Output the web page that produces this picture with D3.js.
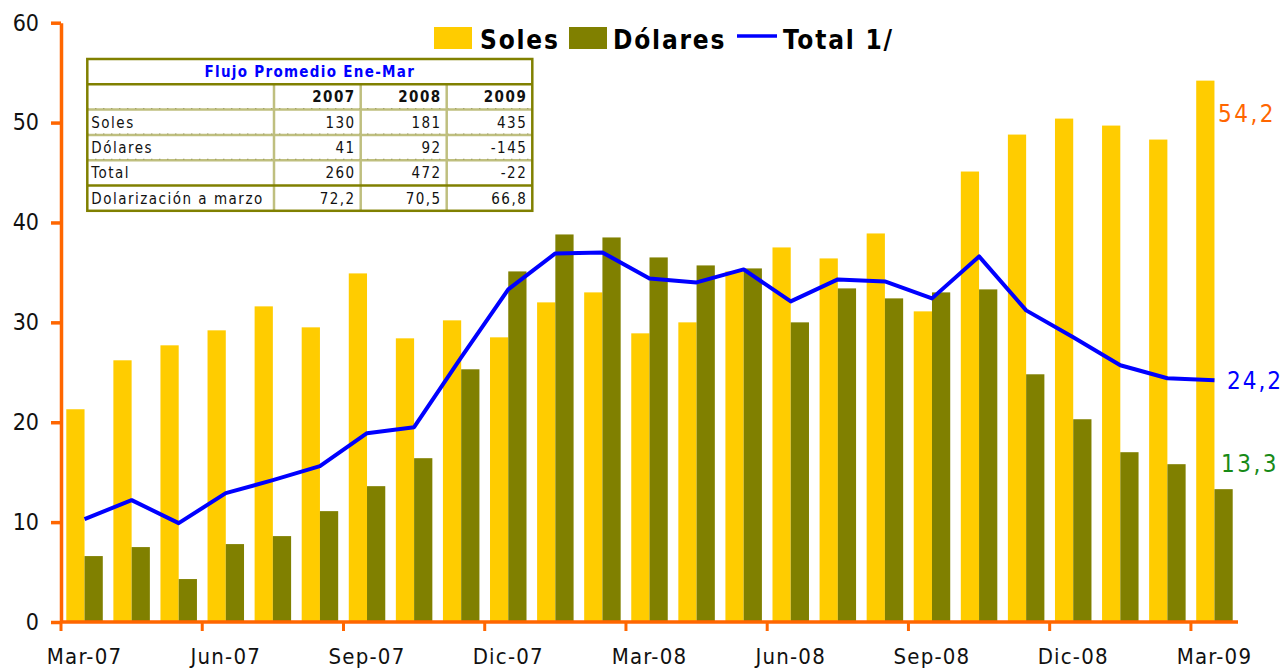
<!DOCTYPE html>
<html>
<head>
<meta charset="utf-8">
<script src="https://cdn.jsdelivr.net/npm/d3@7"></script>
<style>
  body { margin: 0; background: #fff; }
  svg { display: block; font-family: "DejaVu Sans Condensed", "DejaVu Sans", sans-serif; }
</style>
</head>
<body>
<div id="viz"></div>
<script>
// monthly flows (Mar-07 .. Mar-09)
const months = ['Mar-07','Abr-07','May-07','Jun-07','Jul-07','Ago-07','Sep-07','Oct-07','Nov-07','Dic-07','Ene-08','Feb-08',
  'Mar-08','Abr-08','May-08','Jun-08','Jul-08','Ago-08','Sep-08','Oct-08','Nov-08','Dic-08','Ene-09','Feb-09','Mar-09'];
const soles = [21.3,26.2,27.7,29.2,31.6,29.5,34.9,28.4,30.2,28.5,32.0,33.0,28.9,30.0,35.1,37.5,36.4,38.9,31.1,45.1,48.8,50.4,49.7,48.3,54.2];
const dolares = [6.6,7.5,4.3,7.8,8.6,11.1,13.6,16.4,25.3,35.1,38.8,38.5,36.5,35.7,35.4,30.0,33.4,32.4,33.0,33.3,24.8,20.3,17.0,15.8,13.3];
const total = [10.3,12.2,9.9,12.9,14.2,15.6,18.9,19.5,26.5,33.3,36.9,37.0,34.4,34.0,35.3,32.1,34.3,34.1,32.4,36.6,31.2,28.5,25.7,24.4,24.2];
const yTicks = [0,10,20,30,40,50,60];
const xTickLabels = ['Mar-07','Jun-07','Sep-07','Dic-07','Mar-08','Jun-08','Sep-08','Dic-08','Mar-09'];

// inset table
const tableTitle = 'Flujo Promedio Ene-Mar';
const tableYears = ['2007','2008','2009'];
const tableRows = ['Soles','Dólares','Total','Dolarización a marzo'];
const tableValues = [
  ['130','181','435'],
  ['41','92','-145'],
  ['260','472','-22'],
  ['72,2','70,5','66,8']
];

const W = 1284, H = 668;
const orange = '#FF6600', yellow = '#FFCC00', olive = '#808000', blue = '#0000FF';

const svg = d3.select('#viz').append('svg').attr('width', W).attr('height', H);

const x = d3.scaleBand().domain(months).range([61, 1238]);
const xSub = d3.scaleBand().domain(['soles','dolares']).range([0, x.bandwidth()]).paddingOuter(0.29);
const y = d3.scaleLinear().domain([0, 60]).range([622, 22.7]);

const rows = months.map((m, i) => ({ m, soles: soles[i], dolares: dolares[i], total: total[i] }));

// bars
const groups = svg.append('g').selectAll('g').data(rows).enter().append('g')
  .attr('transform', (d) => `translate(${x(d.m)},0)`);
groups.append('rect')
  .attr('x', xSub('soles')).attr('width', xSub.bandwidth())
  .attr('y', (d) => y(d.soles)).attr('height', (d) => y(0) - y(d.soles))
  .attr('fill', yellow);
groups.append('rect')
  .attr('x', xSub('dolares')).attr('width', xSub.bandwidth())
  .attr('y', (d) => y(d.dolares)).attr('height', (d) => y(0) - y(d.dolares))
  .attr('fill', olive);

// total line
const line = d3.line().x((d) => x(d.m) + x.bandwidth() / 2).y((d) => y(d.total));
svg.append('path').datum(rows)
  .attr('d', line).attr('fill', 'none').attr('stroke', blue)
  .attr('stroke-width', 4).attr('stroke-linejoin', 'round');

// y axis
const yAxis = svg.append('g').attr('transform', 'translate(61,0)')
  .call(d3.axisLeft(y).tickValues(yTicks).tickSize(10).tickPadding(12).tickSizeOuter(0));
yAxis.select('.domain').attr('stroke', orange).attr('stroke-width', 3.5);
yAxis.selectAll('.tick line').attr('stroke', orange).attr('stroke-width', 3.5);
yAxis.selectAll('.tick text').attr('font-size', 23).attr('fill', '#111')
  .style('font-family', '"DejaVu Sans Condensed", "DejaVu Sans", sans-serif');

// x axis
const xg = svg.append('g');
xg.append('line').attr('x1', x.range()[0]).attr('x2', x.range()[1])
  .attr('y1', y(0)).attr('y2', y(0)).attr('stroke', orange).attr('stroke-width', 3.5);
xg.selectAll('line.tk').data(xTickLabels).enter().append('line')
  .attr('class', 'tk')
  .attr('x1', (d) => x(d)).attr('x2', (d) => x(d))
  .attr('y1', y(0)).attr('y2', y(0) + 9)
  .attr('stroke', orange).attr('stroke-width', 3);
xg.selectAll('text').data(xTickLabels).enter().append('text')
  .attr('x', (d) => x(d) + x.bandwidth() / 2).attr('y', 664)
  .attr('text-anchor', 'middle').attr('font-size', 22).attr('letter-spacing', 1.2)
  .attr('fill', '#111').text((d) => d);

// end labels
const last = rows[rows.length - 1];
const xEnd = x(last.m) + x.bandwidth();
svg.append('text').attr('x', xEnd - 20).attr('y', y(last.soles) + 41)
  .attr('font-size', 24).attr('letter-spacing', 2.5).attr('fill', orange)
  .text(d3.format('.1f')(last.soles).replace('.', ','));
svg.append('text').attr('x', xEnd - 11).attr('y', y(last.total) + 9)
  .attr('font-size', 24).attr('letter-spacing', 2).attr('fill', blue)
  .text(d3.format('.1f')(last.total).replace('.', ','));
svg.append('text').attr('x', xEnd - 17).attr('y', y(last.dolares) - 17)
  .attr('font-size', 24).attr('letter-spacing', 2.5).attr('fill', '#178A17')
  .text(d3.format('.1f')(last.dolares).replace('.', ','));

// legend
const legend = svg.append('g').attr('transform', 'translate(434,0)');
legend.append('rect').attr('x', 0).attr('y', 27).attr('width', 38).attr('height', 22).attr('fill', yellow);
legend.append('text').attr('x', 46).attr('y', 48.5).text('Soles');
legend.append('rect').attr('x', 135).attr('y', 27).attr('width', 38).attr('height', 22).attr('fill', olive);
legend.append('text').attr('x', 179).attr('y', 48.5).text('Dólares');
legend.append('line').attr('x1', 303).attr('x2', 343).attr('y1', 36).attr('y2', 36)
  .attr('stroke', blue).attr('stroke-width', 3.5);
legend.append('text').attr('x', 349).attr('y', 48.5).text('Total 1/');
legend.selectAll('text').attr('font-size', 26).attr('font-weight', 'bold')
  .attr('letter-spacing', 1.8).attr('fill', '#000');

// table
const tb = svg.append('g');
const colEdges = [87.3, 274, 360.7, 446.7, 532.3];
const rowY = d3.scaleBand().domain(d3.range(6)).range([59, 210.8]);
const light = '#BFBF7F';
tb.append('rect').attr('x', colEdges[0]).attr('y', rowY.range()[0])
  .attr('width', colEdges[4] - colEdges[0]).attr('height', rowY.range()[1] - rowY.range()[0])
  .attr('fill', '#fff');
// inner light lines
[2, 3, 4].forEach((r) => {
  tb.append('line').attr('x1', colEdges[0]).attr('x2', colEdges[4])
    .attr('y1', rowY(r)).attr('y2', rowY(r)).attr('stroke', light).attr('stroke-width', 2.5);
  tb.append('line').attr('x1', colEdges[0]).attr('x2', colEdges[4])
    .attr('y1', rowY(r) - 1).attr('y2', rowY(r) - 1).attr('stroke', '#8a8a50')
    .attr('stroke-width', 1).attr('stroke-dasharray', '1,7');
});
colEdges.slice(1, 4).forEach((cx) => {
  tb.append('line').attr('x1', cx).attr('x2', cx)
    .attr('y1', rowY(1)).attr('y2', rowY.range()[1]).attr('stroke', light).attr('stroke-width', 2.5);
});
// dark lines
[1, 5].forEach((r) => {
  tb.append('line').attr('x1', colEdges[0]).attr('x2', colEdges[4])
    .attr('y1', rowY(r)).attr('y2', rowY(r)).attr('stroke', olive).attr('stroke-width', 2.5);
});
tb.append('rect').attr('x', colEdges[0]).attr('y', rowY.range()[0])
  .attr('width', colEdges[4] - colEdges[0]).attr('height', rowY.range()[1] - rowY.range()[0])
  .attr('fill', 'none').attr('stroke', olive).attr('stroke-width', 2.5);

tb.append('text').attr('x', (colEdges[0] + colEdges[4]) / 2).attr('y', rowY(0) + 18)
  .attr('text-anchor', 'middle').attr('font-size', 15).attr('font-weight', 'bold')
  .attr('letter-spacing', 1.3).attr('fill', blue).text(tableTitle);
tableYears.forEach((yr, j) => {
  tb.append('text').attr('x', colEdges[j + 2] - 5).attr('y', rowY(1) + 18)
    .attr('text-anchor', 'end').attr('font-size', 15).attr('font-weight', 'bold')
    .attr('letter-spacing', 1.5).attr('fill', '#111').text(yr);
});
tableRows.forEach((lab, i) => {
  tb.append('text').attr('x', colEdges[0] + 4).attr('y', rowY(i + 2) + 18)
    .attr('font-size', 15).attr('letter-spacing', 1.5).attr('fill', '#111').text(lab);
  tableValues[i].forEach((v, j) => {
    tb.append('text').attr('x', colEdges[j + 2] - 5).attr('y', rowY(i + 2) + 18)
      .attr('text-anchor', 'end').attr('font-size', 15).attr('letter-spacing', 1.5)
      .attr('fill', '#111').text(v);
  });
});
</script>
</body>
</html>
